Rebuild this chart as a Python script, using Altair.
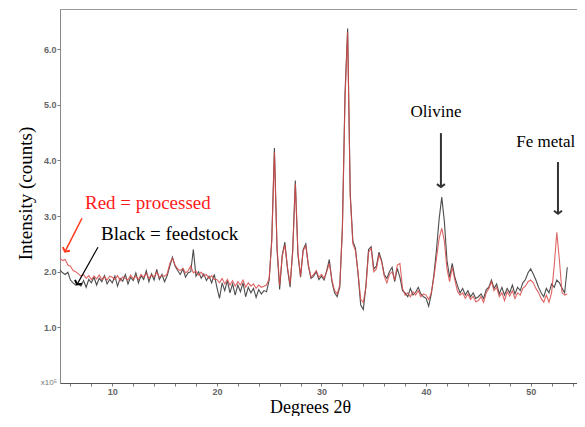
import altair as alt
import pandas as pd

# ---------------- data ----------------
START_DEG = 5.0
STEP_DEG = 0.25

# Black = feedstock (x 10^5 counts), 5.00 .. 53.50 deg, step 0.25
feedstock = [
    2.03, 1.98, 1.95, 1.99, 1.85, 1.80, 1.76, 1.78, 1.74, 1.84, 1.72, 1.86, 1.80, 1.90, 1.76, 1.88, 1.82, 1.93, 1.78, 1.86,
    1.80, 1.92, 1.74, 1.88, 1.83, 1.95, 1.78, 1.90, 1.84, 1.98, 1.80, 1.93, 1.86, 2.02, 1.82, 1.96, 1.85, 2.04, 1.86, 1.95,
    1.82, 1.93, 2.10, 2.26, 2.10, 2.02, 1.95, 2.05, 1.90, 1.98, 2.00, 2.40, 1.92, 2.00, 1.88, 1.96, 1.84, 1.92, 1.80, 1.95,
    1.72, 1.52, 1.80, 1.66, 1.84, 1.62, 1.78, 1.58, 1.76, 1.64, 1.80, 1.55, 1.72, 1.62, 1.70, 1.54, 1.68, 1.60, 1.66, 1.64,
    1.85, 2.60, 4.22, 2.40, 1.68, 2.30, 2.53, 2.05, 1.72, 2.40, 3.64, 2.30, 1.90, 2.40, 2.50, 2.10, 1.88, 1.92, 2.00, 1.86,
    1.92, 1.85, 2.02, 2.22, 1.82, 1.62, 1.55, 1.72, 2.80, 5.20, 6.37, 3.40, 2.55, 2.42, 1.95, 1.40, 1.32, 1.75, 2.40, 2.45,
    2.05, 2.10, 2.35, 2.20, 1.95, 1.88, 2.00, 2.08, 1.82, 2.06, 1.90, 1.66, 1.62, 1.55, 1.70, 1.58, 1.63, 1.72, 1.60, 1.55,
    1.52, 1.38, 1.60, 1.95, 2.40, 2.95, 3.34, 2.90, 2.20, 1.90, 2.15, 1.90, 1.75, 1.62, 1.70, 1.58, 1.66, 1.55, 1.62, 1.52,
    1.55, 1.60, 1.52, 1.68, 1.72, 1.85, 1.70, 1.78, 1.60, 1.72, 1.58, 1.70, 1.62, 1.76, 1.60, 1.72, 1.66, 1.80, 1.86, 1.98,
    2.05, 1.96, 1.85, 1.72, 1.62, 1.55, 1.70, 1.62, 1.78, 1.72, 1.85, 1.80, 1.70, 1.62, 2.08,
]

# Red = processed
processed = [
    2.24, 2.20, 2.22, 2.12, 2.10, 2.02, 2.00, 1.96, 1.92, 1.95, 1.88, 1.93, 1.86, 1.92, 1.87, 1.94, 1.86, 1.91, 1.85, 1.92,
    1.90, 1.86, 1.93, 1.84, 1.91, 1.88, 1.85, 1.94, 1.87, 1.92, 1.86, 1.95, 1.90, 1.97, 1.88, 1.94, 1.91, 1.99, 1.90, 1.93,
    1.92, 1.96, 2.15, 2.24, 2.12, 2.05, 2.02, 2.06, 1.98, 2.02, 2.10, 1.98, 2.01, 1.94, 1.99, 1.92, 1.95, 1.88, 1.93, 1.86,
    1.86, 1.80, 1.88, 1.78, 1.86, 1.76, 1.84, 1.74, 1.82, 1.76, 1.85, 1.72, 1.80, 1.74, 1.78, 1.70, 1.76, 1.72, 1.74, 1.76,
    1.88, 2.55, 4.15, 2.45, 1.75, 2.28, 2.48, 2.08, 1.78, 2.35, 3.58, 2.35, 1.92, 2.38, 2.46, 2.12, 1.90, 1.95, 2.02, 1.90,
    1.95, 1.88, 2.00, 2.15, 1.85, 1.66, 1.60, 1.76, 2.75, 5.10, 6.30, 3.35, 2.50, 2.38, 1.98, 1.50, 1.45, 1.72, 2.35, 2.42,
    2.00, 2.05, 2.30, 2.18, 1.92, 1.80, 1.95, 2.00, 1.85, 2.12, 2.15, 1.70, 1.58, 1.62, 1.55, 1.64, 1.58, 1.66, 1.55, 1.60,
    1.58, 1.50, 1.62, 1.90, 2.25, 2.60, 2.78, 2.55, 2.05, 1.82, 2.08, 1.85, 1.65, 1.58, 1.62, 1.52, 1.60, 1.50, 1.56, 1.46,
    1.48, 1.55, 1.45, 1.62, 1.70, 1.82, 1.66, 1.72, 1.55, 1.62, 1.48, 1.64, 1.56, 1.66, 1.52, 1.62, 1.58, 1.70, 1.74, 1.82,
    1.85, 1.80, 1.70, 1.62, 1.52, 1.45, 1.58, 1.45, 1.62, 2.10, 2.71, 2.20, 1.62, 1.58, 1.60,
]

two_theta = [round(START_DEG + STEP_DEG * i, 2) for i in range(len(feedstock))]

x_domain = [5, 54.43]
y_domain = [0, 6.72]
x_ticks = [6, 8, 10, 12, 14, 16, 18, 20, 22, 24, 26, 28, 30, 32, 34, 36, 38, 40, 42, 44, 46, 48, 50, 52, 54]
y_ticks = [1, 2, 3, 4, 5, 6]

# legend-like labels (left aligned)
legend_text = ["Red = processed", "Black = feedstock"]
legend_x = [7.39, 8.92]
legend_y = [3.12, 2.57]
legend_color = ["#ff1a1a", "#000000"]

# peak labels (centered)
peak_text = ["Olivine", "Fe metal"]
peak_x = [40.95, 51.45]
peak_y = [4.78, 4.24]

# arrows: start -> tip (data coordinates)
arrow_x = [7.10, 8.63, 41.42, 52.61]
arrow_y = [2.96, 2.44, 4.49, 3.97]
arrow_x2 = [5.48, 6.63, 41.42, 52.61]
arrow_y2 = [2.36, 1.77, 3.52, 3.04]
arrow_color = ["#ff3a1a", "#000000", "#333333", "#333333"]
arrow_width = [1.5, 1.2, 2.0, 2.0]
arrow_angle = [27, 29, 0, 0]

# ---------------- chart ----------------
line_df_black = pd.DataFrame({"two_theta": two_theta, "intensity": feedstock})
line_df_red = pd.DataFrame({"two_theta": two_theta, "intensity": processed})
legend_df = pd.DataFrame({"two_theta": legend_x, "intensity": legend_y,
                          "label": legend_text, "color": legend_color})
peak_df = pd.DataFrame({"two_theta": peak_x, "intensity": peak_y, "label": peak_text})
arrow_df = pd.DataFrame({"two_theta": arrow_x, "intensity": arrow_y,
                         "two_theta2": arrow_x2, "intensity2": arrow_y2,
                         "color": arrow_color, "width": arrow_width})
tip_df = pd.DataFrame({"two_theta": arrow_x2, "intensity": arrow_y2,
                       "color": arrow_color, "angle": arrow_angle})
unit_df = pd.DataFrame({"two_theta": [5.0], "intensity": [0.0], "label": ["x10\u2075"]})

x_scale = alt.Scale(domain=x_domain, nice=False, zero=False)
y_scale = alt.Scale(domain=y_domain, nice=False, zero=False)

x_axis = alt.Axis(
    values=x_ticks,
    labelExpr="datum.value % 10 === 0 ? datum.label : ''",
    format="d",
    grid=False,
    tickSize=3, tickColor="#777777", domainColor="#555555",
    labelColor="#666666", labelFont="Liberation Sans", labelFontSize=9,
    labelFontWeight="bold", labelPadding=1,
    title="Degrees 2θ", titleFont="Liberation Serif", titleFontSize=18,
    titleFontWeight="normal", titleColor="#000000",
    titleX=250, titleY=29, titleAlign="center", titleBaseline="alphabetic",
)
y_axis = alt.Axis(
    values=y_ticks, format=".1f", grid=False,
    tickSize=3, tickColor="#777777", domainColor="#888888",
    labelColor="#666666", labelFont="Liberation Sans", labelFontSize=9,
    labelFontWeight="bold", labelPadding=1,
    title="Intensity (counts)", titleFont="Liberation Serif", titleFontSize=19,
    titleFontWeight="normal", titleColor="#000000",
    titleX=-35, titleY=184, titleAngle=270, titleAlign="center", titleBaseline="middle",
)

X = alt.X("two_theta:Q", scale=x_scale, axis=x_axis)
Y = alt.Y("intensity:Q", scale=y_scale, axis=y_axis)

black_line = alt.Chart(line_df_black).mark_line(
    color="#3a3a3a", strokeWidth=1.1, opacity=0.9
).encode(x=X, y=Y)

red_line = alt.Chart(line_df_red).mark_line(
    color="#d94a4a", strokeWidth=1.1, opacity=0.85
).encode(x=X, y=Y)

arrows = alt.Chart(arrow_df).mark_rule().encode(
    x=X, y=Y, x2="two_theta2:Q", y2="intensity2:Q",
    color=alt.Color("color:N", scale=None),
    strokeWidth=alt.StrokeWidth("width:Q", scale=None),
)

tips = alt.Chart(tip_df).mark_point(
    shape="M-1,-0.75L0,0L1,-0.75", filled=False, size=64, strokeWidth=2, opacity=1
).encode(
    x=X, y=Y,
    color=alt.Color("color:N", scale=None),
    angle=alt.Angle("angle:Q", scale=None),
)

legend_labels = alt.Chart(legend_df).mark_text(
    align="left", baseline="alphabetic", font="Liberation Serif", fontSize=19
).encode(x=X, y=Y, text="label:N", color=alt.Color("color:N", scale=None))

peak_labels = alt.Chart(peak_df).mark_text(
    align="center", baseline="alphabetic", font="Liberation Serif", fontSize=17, color="#000000"
).encode(x=X, y=Y, text="label:N")

unit_label = alt.Chart(unit_df).mark_text(
    align="right", baseline="middle", dx=-3, font="Liberation Sans", fontSize=8, color="#777777"
).encode(x=X, y=Y, text="label:N")

chart = alt.layer(
    black_line, red_line, arrows, tips, legend_labels, peak_labels, unit_label
).properties(
    width=517, height=374,
    autosize=alt.AutoSizeParams(type="none"),
    padding={"left": 52, "top": 1, "right": 0, "bottom": 33},
    background="white",
).configure_view(stroke="#9a9a9a", strokeWidth=1)

chart.save("out.html", embed_options={"renderer": "svg", "actions": False})
